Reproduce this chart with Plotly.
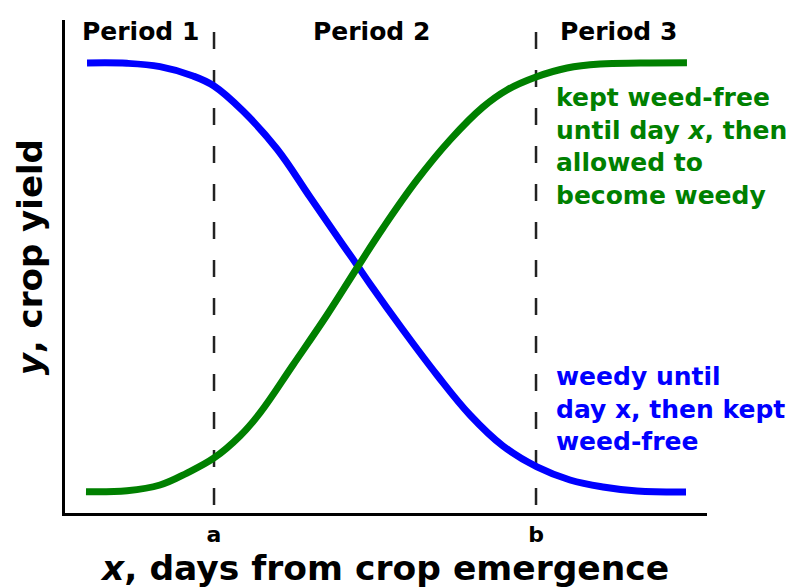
import plotly.graph_objects as go

# x: days from crop emergence (arbitrary 0-100 scale), y: crop yield (0-100 scale)
weedy_x = [3.73, 9.94, 15.06, 20.19, 23.45, 27.95, 33.23, 38.35, 43.48, 45.65, 47.67, 52.80, 58.07, 63.20, 68.32, 73.60, 78.73, 83.85, 89.13, 96.74]
weedy_until = [91.31, 91.25, 90.57, 88.69, 86.67, 81.61, 73.94, 64.24, 54.55, 50.51, 46.67, 37.37, 28.28, 20.20, 13.94, 9.70, 7.07, 5.66, 4.85, 4.65]
weedfree_x = [3.57, 9.94, 15.06, 19.25, 23.45, 27.48, 30.59, 35.71, 40.99, 45.65, 49.69, 54.97, 60.09, 65.22, 68.94, 73.45, 78.26, 83.39, 89.60, 96.89]
weedfree_until = [4.71, 4.91, 6.06, 8.48, 11.52, 15.96, 20.61, 30.30, 40.40, 49.90, 57.98, 67.68, 75.76, 82.42, 85.86, 88.48, 90.30, 91.11, 91.31, 91.37]

critical_days = [23.45, 73.45]
critical_labels = ["a", "b"]
period_labels = ["Period 1", "Period 2", "Period 3"]
period_x = [12.1, 47.9, 86.2]

FONT = "DejaVu Sans"

fig = go.Figure()
fig.add_trace(go.Scatter(x=weedy_x, y=weedy_until, mode="lines",
                         line=dict(color="#0000ff", width=7, shape="spline", smoothing=1.1),
                         showlegend=False, hoverinfo="skip"))
fig.add_trace(go.Scatter(x=weedfree_x, y=weedfree_until, mode="lines",
                         line=dict(color="#008000", width=7, shape="spline", smoothing=1.1),
                         showlegend=False, hoverinfo="skip"))

for d in critical_days:
    fig.add_shape(type="line", x0=d, x1=d, y0=97.6, y1=0.4, xref="x", yref="y",
                  line=dict(color="#222222", width=2.5, dash="17px,21px"), layer="below")

annotations = []
for lbl, px in zip(period_labels, period_x):
    annotations.append(dict(x=px, y=97.6, xref="x", yref="y", text="<b>" + lbl + "</b>",
                            showarrow=False, font=dict(family=FONT, size=25, color="black"),
                            xanchor="center", yanchor="middle"))
annotations.append(dict(x=76.3, y=87.7, xref="x", yref="y",
                        text="<b>kept weed-free<br>until day <i>x</i>, then<br>allowed to<br>become weedy</b>",
                        showarrow=False, align="left", xanchor="left", yanchor="top",
                        font=dict(family=FONT, size=25, color="#008000")))
annotations.append(dict(x=76.3, y=31.4, xref="x", yref="y",
                        text="<b>weedy until<br>day x, then kept<br>weed-free</b>",
                        showarrow=False, align="left", xanchor="left", yanchor="top",
                        font=dict(family=FONT, size=25, color="#0000ff")))
# axis titles
annotations.append(dict(x=0.497, y=-0.112, xref="paper", yref="paper",
                        text="<b><i>x</i>, days from crop emergence</b>", showarrow=False,
                        xanchor="center", yanchor="middle",
                        font=dict(family=FONT, size=34.5, color="black")))
annotations.append(dict(x=-0.055, y=0.518, xref="paper", yref="paper",
                        text="<b><i>y</i>, crop yield</b>", showarrow=False, textangle=-90,
                        xanchor="center", yanchor="middle",
                        font=dict(family=FONT, size=34, color="black")))

fig.update_layout(
    width=796, height=588,
    margin=dict(l=65, r=89, t=20, b=75, autoexpand=False),
    paper_bgcolor="white", plot_bgcolor="white",
    font=dict(family=FONT, color="black"),
    annotations=annotations,
    xaxis=dict(range=[0.31, 100], showgrid=False, zeroline=False, showline=True,
               linecolor="black", linewidth=3, ticks="", automargin=False,
               tickvals=critical_days, ticktext=["<b>" + t + "</b>" for t in critical_labels],
               tickfont=dict(family=FONT, size=22, color="black")),
    yaxis=dict(range=[0.4, 100], showgrid=False, zeroline=False, showline=True,
               linecolor="black", linewidth=3, ticks="", showticklabels=False,
               automargin=False),
)

fig.write_html("out.html", config={"displayModeBar": False},
               post_script="document.body.style.margin='0';")
